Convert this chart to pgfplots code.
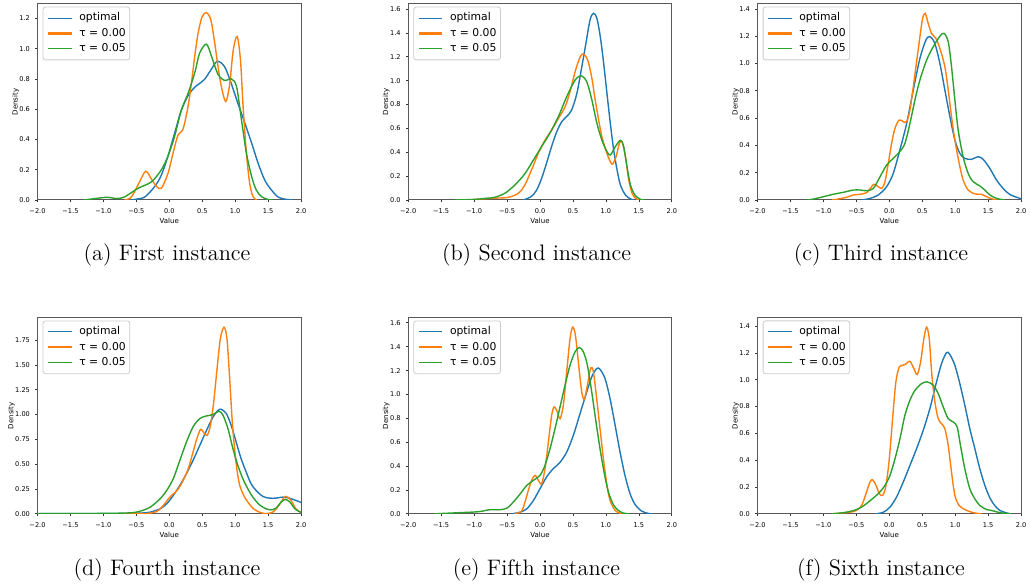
\documentclass[border=0pt]{standalone}
\usepackage{fontspec}
\setsansfont{DejaVu Sans}
\usepackage{pgfplots}
\pgfplotsset{compat=1.18}

\definecolor{tabblue}{HTML}{1F77B4}
\definecolor{taborange}{HTML}{FF7F0E}
\definecolor{tabgreen}{HTML}{2CA02C}

\pgfplotsset{
  kde/.style={
    scale only axis, width=131.8pt, height=98pt, anchor=south west,
    xmin=-2, xmax=2, ymin=0,
    xtick={-2,-1.5,-1,-0.5,0,0.5,1,1.5,2},
    xticklabels={−2.0,−1.5,−1.0,−0.5,0.0,0.5,1.0,1.5,2.0},
    tick align=outside, tick pos=left, major tick length=1.2pt,
    tick style={black!80, line width=0.35pt},
    axis line style={black!65, line width=0.5pt},
    ticklabel style={font=\sffamily\fontsize{3.3}{4}\selectfont, inner sep=0pt},
    xticklabel style={yshift=-2.9pt},
    yticklabel style={xshift=-2.4pt},
    label style={font=\sffamily\fontsize{3.5}{4}\selectfont},
    xlabel=Value, ylabel=Density,
    xlabel style={inner sep=0pt, yshift=-2.2pt},
    ylabel style={inner sep=0pt},
    legend cell align=left,
    legend style={at={(0,1)}, anchor=north west, xshift=2.6pt, yshift=-1.35pt,
      draw=black!20, line width=0.4pt, rounded corners=1.2pt, fill=white,
      font=\sffamily\fontsize{5.4}{6}\selectfont,
      inner xsep=2pt, inner ysep=2.9pt, row sep=2.5pt,
      nodes={inner sep=0pt, text height=4pt, text depth=1.2pt},
      /tikz/every odd column/.append style={column sep=3.3pt}},
    legend image code/.code={\draw[#1, line width=0.55pt] (0pt,0pt) -- (11.7pt,0pt);},
    every axis plot/.append style={line width=0.7pt, smooth},
  },
  opt/.style={tabblue},
  t0/.style={taborange, legend image code/.code={\draw[##1, line width=1.1pt] (0pt,0pt) -- (11.7pt,0pt);}},
  t5/.style={tabgreen},
}

\begin{document}
\begin{tikzpicture}
\path[use as bounding box] (0,0) rectangle (515pt,292.5pt);

% (a) First instance
\begin{axis}[kde, at={(18.75pt,192.5pt)}, ymax=1.295,
  ytick={0,0.2,0.4,0.6,0.8,1.0,1.2}, yticklabels={0.0,0.2,0.4,0.6,0.8,1.0,1.2}]
\addplot[opt] coordinates {(-0.58,0) (-0.47,0.008) (-0.37,0.02) (-0.22,0.09) (-0.12,0.165) (-0.02,0.29) (0.08,0.44) (0.18,0.59) (0.285,0.69) (0.386,0.745) (0.46,0.77) (0.54,0.80) (0.64,0.865) (0.73,0.917) (0.84,0.88) (0.94,0.77) (1.04,0.64) (1.145,0.51) (1.25,0.375) (1.35,0.24) (1.45,0.13) (1.55,0.066) (1.65,0.02) (1.75,0.006) (1.87,0)};
\addlegendentry{optimal}
\addplot[t0] coordinates {(-0.68,0) (-0.6,0.01) (-0.54,0.044) (-0.44,0.13) (-0.355,0.19) (-0.26,0.13) (-0.19,0.088) (-0.12,0.078) (-0.02,0.176) (0.057,0.31) (0.133,0.43) (0.21,0.47) (0.285,0.62) (0.335,0.77) (0.386,0.95) (0.436,1.10) (0.497,1.21) (0.563,1.238) (0.63,1.19) (0.69,1.035) (0.74,0.88) (0.79,0.75) (0.857,0.65) (0.918,0.77) (0.97,0.99) (1.03,1.08) (1.08,0.925) (1.12,0.617) (1.17,0.31) (1.22,0.11) (1.27,0.022) (1.33,0)};
\addlegendentry{τ = 0.00}
\addplot[t5] coordinates {(-1.3,0) (-1.15,0.008) (-0.95,0.018) (-0.8,0.01) (-0.68,0.02) (-0.475,0.077) (-0.27,0.12) (-0.12,0.20) (-0.02,0.29) (0.08,0.42) (0.18,0.59) (0.285,0.705) (0.386,0.84) (0.46,0.97) (0.563,1.03) (0.64,0.95) (0.74,0.83) (0.84,0.79) (0.94,0.80) (1.02,0.75) (1.095,0.53) (1.17,0.31) (1.25,0.154) (1.32,0.066) (1.40,0.022) (1.5,0.003) (1.58,0)};
\addlegendentry{τ = 0.05}
\end{axis}

% (b) Second instance
\begin{axis}[kde, at={(204.1pt,192.5pt)}, ymax=1.642,
  ytick={0,0.2,0.4,0.6,0.8,1.0,1.2,1.4,1.6}, yticklabels={0.0,0.2,0.4,0.6,0.8,1.0,1.2,1.4,1.6}]
\addplot[opt] coordinates {(-0.25,0) (-0.13,0.03) (-0.05,0.084) (0.024,0.18) (0.10,0.31) (0.177,0.45) (0.253,0.57) (0.33,0.656) (0.406,0.70) (0.48,0.754) (0.56,0.894) (0.635,1.117) (0.696,1.31) (0.76,1.51) (0.813,1.564) (0.864,1.52) (0.915,1.368) (0.966,1.145) (1.016,0.894) (1.067,0.642) (1.118,0.42) (1.17,0.25) (1.22,0.126) (1.296,0.042) (1.37,0.01) (1.42,0)};
\addlegendentry{optimal}
\addplot[t0] coordinates {(-1.1,0) (-0.9,0.008) (-0.7,0.015) (-0.485,0.022) (-0.33,0.056) (-0.23,0.126) (-0.13,0.25) (-0.027,0.39) (0.075,0.50) (0.177,0.586) (0.28,0.684) (0.38,0.78) (0.457,0.91) (0.533,1.075) (0.61,1.20) (0.66,1.223) (0.726,1.17) (0.787,1.02) (0.838,0.838) (0.89,0.67) (0.94,0.53) (1.016,0.39) (1.093,0.30) (1.154,0.363) (1.205,0.475) (1.245,0.49) (1.296,0.363) (1.347,0.168) (1.398,0.056) (1.45,0.014) (1.5,0)};
\addlegendentry{τ = 0.00}
\addplot[t5] coordinates {(-1.3,0) (-1.0,0.005) (-0.8,0.015) (-0.69,0.022) (-0.535,0.056) (-0.38,0.126) (-0.23,0.22) (-0.10,0.335) (0.024,0.447) (0.15,0.56) (0.28,0.70) (0.406,0.866) (0.533,1.005) (0.625,1.04) (0.71,0.99) (0.787,0.838) (0.864,0.642) (0.94,0.50) (1.016,0.405) (1.067,0.377) (1.143,0.447) (1.22,0.50) (1.27,0.447) (1.32,0.28) (1.373,0.126) (1.44,0.042) (1.525,0.005) (1.6,0)};
\addlegendentry{τ = 0.05}
\end{axis}

% (c) Third instance
\begin{axis}[kde, at={(378.75pt,192.5pt)}, ymax=1.436,
  ytick={0,0.2,0.4,0.6,0.8,1.0,1.2,1.4}, yticklabels={0.0,0.2,0.4,0.6,0.8,1.0,1.2,1.4}]
\addplot[opt] coordinates {(-0.42,0) (-0.29,0.012) (-0.167,0.037) (-0.04,0.098) (0.06,0.195) (0.16,0.366) (0.263,0.56) (0.364,0.806) (0.465,1.038) (0.556,1.172) (0.616,1.197) (0.69,1.148) (0.768,1.00) (0.843,0.806) (0.92,0.61) (0.995,0.44) (1.07,0.342) (1.146,0.305) (1.247,0.298) (1.35,0.317) (1.424,0.298) (1.525,0.232) (1.626,0.147) (1.727,0.085) (1.828,0.041) (1.98,0.012) (2.05,0.005)};
\addlegendentry{optimal}
\addplot[t0] coordinates {(-0.87,0) (-0.8,0.005) (-0.646,0.02) (-0.545,0.037) (-0.444,0.042) (-0.343,0.054) (-0.268,0.098) (-0.232,0.115) (-0.167,0.098) (-0.116,0.085) (-0.066,0.134) (-0.015,0.27) (0.035,0.415) (0.086,0.525) (0.15,0.586) (0.212,0.574) (0.263,0.574) (0.313,0.66) (0.364,0.83) (0.414,1.013) (0.465,1.197) (0.505,1.33) (0.545,1.368) (0.59,1.294) (0.641,1.221) (0.707,1.184) (0.768,1.11) (0.843,0.977) (0.894,0.806) (0.944,0.61) (0.995,0.44) (1.06,0.27) (1.12,0.147) (1.197,0.073) (1.30,0.044) (1.40,0.042) (1.475,0.024) (1.576,0.005) (1.65,0)};
\addlegendentry{τ = 0.00}
\addplot[t5] coordinates {(-1.25,0) (-1.15,0.007) (-1.0,0.024) (-0.85,0.042) (-0.70,0.056) (-0.545,0.073) (-0.444,0.073) (-0.343,0.068) (-0.242,0.085) (-0.14,0.171) (-0.04,0.256) (0.06,0.305) (0.16,0.354) (0.237,0.415) (0.313,0.56) (0.389,0.733) (0.465,0.88) (0.566,1.025) (0.667,1.123) (0.768,1.20) (0.828,1.221) (0.894,1.16) (0.944,0.977) (0.995,0.733) (1.045,0.513) (1.12,0.317) (1.197,0.195) (1.273,0.134) (1.374,0.103) (1.45,0.073) (1.525,0.037) (1.626,0.012) (1.75,0)};
\addlegendentry{τ = 0.05}
\end{axis}

% (d) Fourth instance
\begin{axis}[kde, at={(18.75pt,35.6pt)}, ymax=1.975,
  ytick={0,0.25,0.5,0.75,1.0,1.25,1.5,1.75}, yticklabels={0.00,0.25,0.50,0.75,1.00,1.25,1.50,1.75}]
\addplot[opt] coordinates {(-2,0.001) (-1.0,0.002) (-0.6,0.004) (-0.44,0.007) (-0.29,0.017) (-0.14,0.05) (-0.04,0.10) (0.06,0.185) (0.16,0.286) (0.26,0.404) (0.36,0.538) (0.463,0.69) (0.564,0.84) (0.664,0.976) (0.74,1.043) (0.79,1.053) (0.865,1.01) (0.94,0.89) (1.016,0.72) (1.09,0.555) (1.167,0.42) (1.243,0.30) (1.318,0.235) (1.42,0.175) (1.52,0.158) (1.62,0.158) (1.72,0.168) (1.82,0.158) (1.92,0.135) (2.0,0.115) (2.1,0.09)};
\addlegendentry{optimal}
\addplot[t0] coordinates {(-2,0) (-0.5,0.001) (-0.34,0.003) (-0.19,0.024) (-0.09,0.084) (-0.015,0.15) (0.06,0.20) (0.136,0.25) (0.21,0.336) (0.287,0.454) (0.36,0.62) (0.41,0.74) (0.473,0.85) (0.523,0.817) (0.574,0.79) (0.624,0.89) (0.674,1.127) (0.725,1.464) (0.775,1.766) (0.83,1.88) (0.875,1.766) (0.916,1.363) (0.956,0.925) (1.006,0.555) (1.057,0.32) (1.117,0.202) (1.192,0.118) (1.268,0.057) (1.343,0.024) (1.444,0.003) (1.57,0.017) (1.67,0.09) (1.76,0.175) (1.847,0.135) (1.92,0.05) (1.99,0.017) (2.05,0.005)};
\addlegendentry{τ = 0.00}
\addplot[t5] coordinates {(-2,0.001) (-1.0,0.004) (-0.59,0.01) (-0.44,0.027) (-0.29,0.067) (-0.14,0.151) (-0.04,0.235) (0.06,0.353) (0.16,0.538) (0.26,0.723) (0.36,0.875) (0.463,0.96) (0.564,0.986) (0.664,1.0) (0.755,1.033) (0.815,0.993) (0.89,0.858) (0.966,0.656) (1.04,0.488) (1.117,0.353) (1.192,0.252) (1.268,0.168) (1.37,0.09) (1.47,0.05) (1.545,0.04) (1.62,0.057) (1.696,0.118) (1.76,0.145) (1.83,0.118) (1.906,0.05) (1.99,0.017) (2.05,0.005)};
\addlegendentry{τ = 0.05}
\end{axis}

% (e) Fifth instance
\begin{axis}[kde, at={(204.1pt,35.6pt)}, ymax=1.642,
  ytick={0,0.2,0.4,0.6,0.8,1.0,1.2,1.4,1.6}, yticklabels={0.0,0.2,0.4,0.6,0.8,1.0,1.2,1.4,1.6}]
\addplot[opt] coordinates {(-0.42,0) (-0.30,0.014) (-0.2,0.042) (-0.1,0.112) (0,0.21) (0.1,0.308) (0.2,0.378) (0.30,0.428) (0.405,0.517) (0.506,0.657) (0.608,0.84) (0.709,1.02) (0.785,1.147) (0.86,1.217) (0.91,1.211) (0.987,1.133) (1.063,0.965) (1.14,0.741) (1.215,0.517) (1.29,0.32) (1.367,0.168) (1.443,0.078) (1.544,0.022) (1.646,0.003) (1.7,0)};
\addlegendentry{optimal}
\addplot[t0] coordinates {(-0.38,0) (-0.28,0.022) (-0.228,0.098) (-0.177,0.196) (-0.127,0.28) (-0.076,0.322) (-0.025,0.28) (0.025,0.252) (0.076,0.378) (0.127,0.60) (0.177,0.825) (0.213,0.895) (0.253,0.867) (0.304,0.797) (0.354,0.909) (0.405,1.189) (0.456,1.469) (0.496,1.564) (0.537,1.497) (0.582,1.273) (0.633,1.021) (0.673,0.96) (0.719,1.077) (0.77,1.222) (0.81,1.189) (0.86,0.965) (0.911,0.713) (0.962,0.462) (1.013,0.252) (1.063,0.112) (1.14,0.028) (1.215,0.005) (1.25,0)};
\addlegendentry{τ = 0.00}
\addplot[t5] coordinates {(-1.6,0) (-1.4,0.005) (-1.2,0.01) (-1.0,0.015) (-0.9,0.02) (-0.76,0.034) (-0.61,0.034) (-0.5,0.048) (-0.405,0.098) (-0.30,0.168) (-0.2,0.238) (-0.1,0.28) (0,0.322) (0.076,0.406) (0.152,0.545) (0.228,0.713) (0.304,0.895) (0.38,1.077) (0.456,1.245) (0.532,1.357) (0.597,1.393) (0.658,1.357) (0.719,1.245) (0.785,1.021) (0.85,0.769) (0.911,0.545) (0.972,0.35) (1.038,0.182) (1.114,0.076) (1.19,0.028) (1.266,0.006) (1.35,0)};
\addlegendentry{τ = 0.05}
\end{axis}

% (f) Sixth instance
\begin{axis}[kde, at={(378.75pt,35.6pt)}, ymax=1.462,
  ytick={0,0.2,0.4,0.6,0.8,1.0,1.2,1.4}, yticklabels={0.0,0.2,0.4,0.6,0.8,1.0,1.2,1.4}]
\addplot[opt] coordinates {(-0.2,0) (-0.09,0.012) (0.01,0.05) (0.11,0.125) (0.212,0.237) (0.313,0.361) (0.414,0.486) (0.515,0.623) (0.616,0.785) (0.717,0.984) (0.793,1.121) (0.869,1.203) (0.919,1.188) (0.995,1.108) (1.07,0.971) (1.146,0.81) (1.222,0.635) (1.298,0.486) (1.374,0.336) (1.45,0.212) (1.525,0.12) (1.60,0.062) (1.677,0.025) (1.778,0.007) (1.83,0)};
\addlegendentry{optimal}
\addplot[t0] coordinates {(-0.87,0) (-0.75,0.005) (-0.6,0.012) (-0.5,0.025) (-0.42,0.062) (-0.354,0.15) (-0.293,0.237) (-0.253,0.254) (-0.202,0.212) (-0.15,0.15) (-0.1,0.137) (-0.05,0.212) (0,0.41) (0.05,0.71) (0.1,0.984) (0.152,1.096) (0.212,1.108) (0.263,1.121) (0.313,1.138) (0.374,1.083) (0.424,1.039) (0.475,1.133) (0.525,1.308) (0.566,1.392) (0.606,1.308) (0.646,1.034) (0.692,0.834) (0.742,0.71) (0.793,0.672) (0.843,0.635) (0.894,0.51) (0.944,0.311) (0.995,0.137) (1.06,0.062) (1.146,0.032) (1.247,0.012) (1.35,0.002) (1.4,0)};
\addlegendentry{τ = 0.00}
\addplot[t5] coordinates {(-0.87,0) (-0.75,0.005) (-0.6,0.017) (-0.47,0.037) (-0.37,0.067) (-0.27,0.107) (-0.167,0.15) (-0.066,0.212) (0.01,0.286) (0.086,0.41) (0.162,0.56) (0.237,0.735) (0.313,0.847) (0.389,0.92) (0.49,0.971) (0.576,0.984) (0.667,0.959) (0.742,0.897) (0.818,0.797) (0.894,0.71) (0.97,0.685) (1.03,0.648) (1.08,0.51) (1.146,0.336) (1.222,0.187) (1.298,0.112) (1.374,0.062) (1.475,0.032) (1.55,0.025) (1.65,0.012) (1.753,0.003) (1.85,0)};
\addlegendentry{τ = 0.05}
\end{axis}

% captions
\begin{scope}[every node/.style={anchor=base, font=\fontsize{11.2}{13}\selectfont}]
\node at (83.5pt,162pt) {(a) First instance};
\node at (268.25pt,162pt) {(b) Second instance};
\node at (440.5pt,162pt) {(c) Third instance};
\node at (83.5pt,4.75pt) {(d) Fourth instance};
\node at (268.25pt,4.75pt) {(e) Fifth instance};
\node at (440.5pt,4.75pt) {(f) Sixth instance};
\end{scope}
\end{tikzpicture}
\end{document}
